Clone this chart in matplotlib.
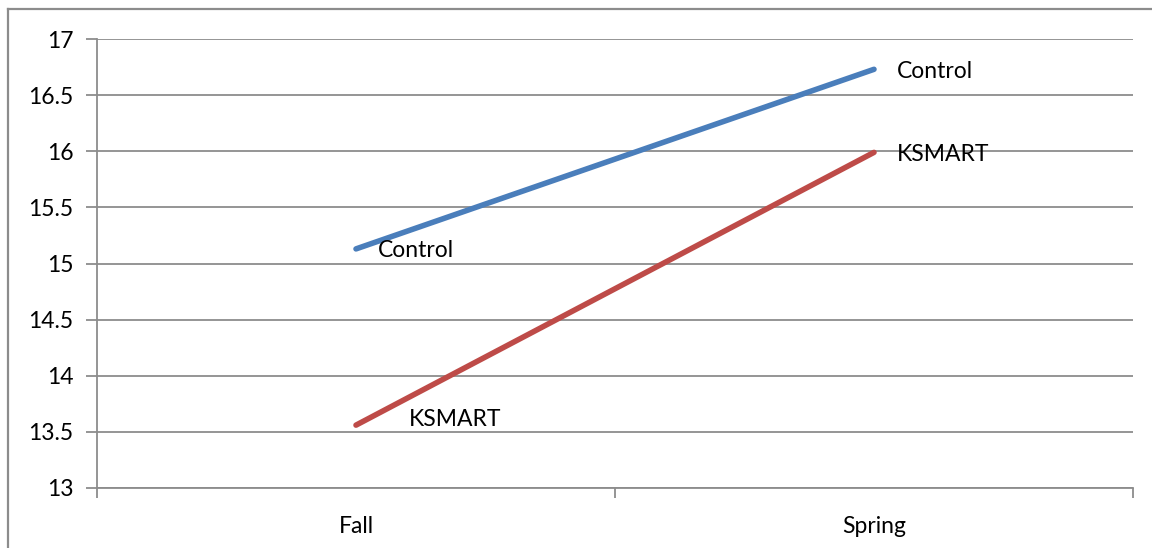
import matplotlib
matplotlib.use("Agg")
import matplotlib.pyplot as plt

categories = ["Fall", "Spring"]
control = [15.13, 16.73]
ksmart = [13.56, 15.99]
series_names = ["Control", "KSMART"]
yticks = [13, 13.5, 14, 14.5, 15, 15.5, 16, 16.5, 17]

plt.rcParams['font.family'] = ['Lato', 'DejaVu Sans']
FS = 16.5

W, H = 1152, 548
fig = plt.figure(figsize=(W/100, H/100), dpi=100)
ax = fig.add_axes([97/W, 1-488/H, (1133-97)/W, (488-39)/H])

grid_c = "#8c8c8c"
x = [0.5, 1.5]
ax.plot(x, control, color="#4a7ebb", lw=4, solid_capstyle="round", zorder=3)
ax.plot(x, ksmart, color="#be4b48", lw=4, solid_capstyle="round", zorder=3)

ax.set_xlim(0, 2)
ax.set_ylim(13, 17)
ax.set_yticks(yticks)
ax.set_yticklabels([f"{v:g}" for v in yticks])
ax.yaxis.grid(True, color=grid_c, lw=1.3)
ax.set_axisbelow(True)
ax.set_xticks([0, 1, 2])
ax.set_xticklabels([])
ax.set_xticks(x, minor=True)
ax.set_xticklabels(categories, minor=True)
ax.tick_params(axis="x", which="major", length=7, width=1.3, color=grid_c)
ax.tick_params(axis="x", which="minor", length=0, pad=20, labelsize=FS)
ax.tick_params(axis="y", length=8, width=1.3, color=grid_c, labelsize=FS, pad=9)
for s in ["top", "right"]:
    ax.spines[s].set_visible(False)
for s in ["left", "bottom"]:
    ax.spines[s].set_color(grid_c)
    ax.spines[s].set_linewidth(1.3)

# data labels
ax.annotate(series_names[0], (x[0], control[0]), xytext=(22, -2), textcoords="offset pixels",
            va="center", ha="left", fontsize=FS)
ax.annotate(series_names[1], (x[0], ksmart[0]), xytext=(53, 6), textcoords="offset pixels",
            va="center", ha="left", fontsize=FS)
ax.annotate(series_names[0], (x[1], control[1]), xytext=(23, -2), textcoords="offset pixels",
            va="center", ha="left", fontsize=FS)
ax.annotate(series_names[1], (x[1], ksmart[1]), xytext=(23, -2), textcoords="offset pixels",
            va="center", ha="left", fontsize=FS)

# outer chart border (left and top visible)
fig.add_artist(plt.Line2D([8/W, 8/W], [0, 1-9/H], transform=fig.transFigure, color=grid_c, lw=1.6))
fig.add_artist(plt.Line2D([8/W, 1], [1-9/H, 1-9/H], transform=fig.transFigure, color=grid_c, lw=1.6))

fig.savefig("out.png", dpi=100)
